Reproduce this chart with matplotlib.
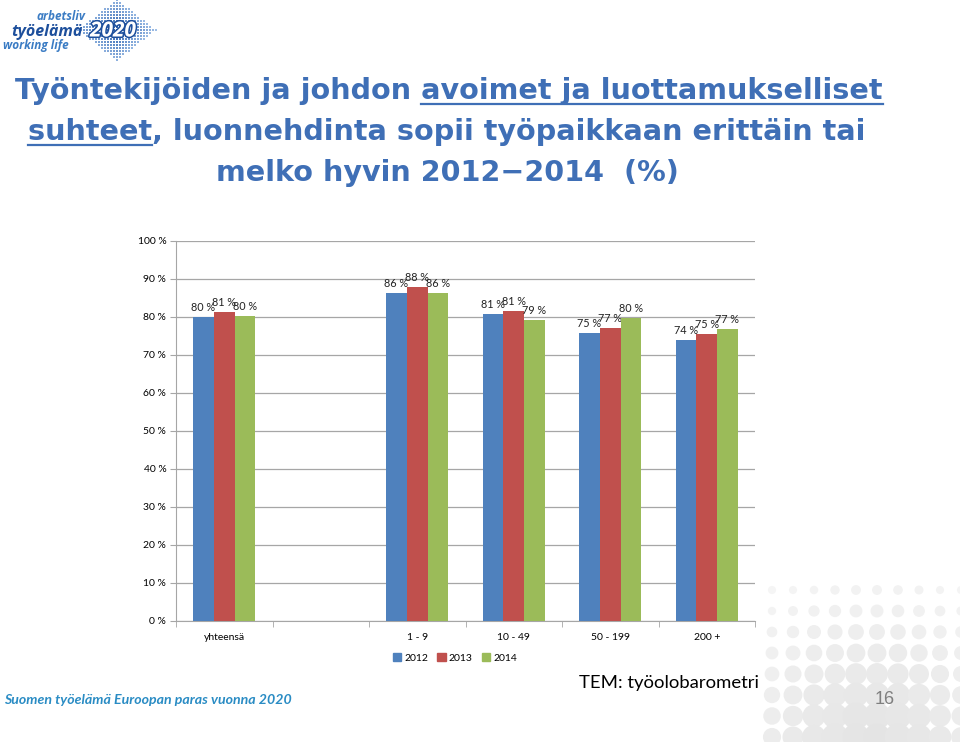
import numpy as np
import matplotlib
matplotlib.use("Agg")
import matplotlib.pyplot as plt
import matplotlib.patheffects as pe
from matplotlib.patches import Circle, Rectangle, Patch

# values (share, 0..1)
categories = ["yhteensä", "", "1 - 9", "10 - 49", "50 - 199", "200 +"]
years = ["2012", "2013", "2014"]
v2012 = [0.80, np.nan, 0.863, 0.808, 0.758, 0.739]
v2013 = [0.813, np.nan, 0.879, 0.816, 0.771, 0.755]
v2014 = [0.803, np.nan, 0.863, 0.792, 0.797, 0.768]
labels2012 = ["80 %", "", "86 %", "81 %", "75 %", "74 %"]
labels2013 = ["81 %", "", "88 %", "81 %", "77 %", "75 %"]
labels2014 = ["80 %", "", "86 %", "79 %", "80 %", "77 %"]
yticks = [0.0, 0.1, 0.2, 0.3, 0.4, 0.5, 0.6, 0.7, 0.8, 0.9, 1.0]
ytick_labels = ["0 %", "10 %", "20 %", "30 %", "40 %", "50 %", "60 %", "70 %", "80 %", "90 %", "100 %"]

colors = ["#4F81BD", "#C0504D", "#9BBB59"]
title_color = "#3F6FB6"

W, H = 960, 742


def px(x, y):
    """pixel (top-left origin) -> figure fraction"""
    return x / W, 1 - y / H


fig = plt.figure(figsize=(W / 100, H / 100), dpi=100)
fig.patch.set_facecolor("white")

# background layer in pixel units for the decorations
bg = fig.add_axes([0, 0, 1, 1], zorder=0)
bg.set_xlim(0, W)
bg.set_ylim(H, 0)
bg.axis("off")

# gray dot pattern, bottom right corner
cx, cy = 872, 748
for gx in np.arange(772, 975, 21):
    for gy in np.arange(590, 760, 21):
        d = np.hypot(gx - cx, gy - cy)
        if d > 190:
            continue
        r = 13.5 * min(1.0, max(0.3, 1.2 - d / 190))
        shade = 0.89 + 0.07 * min(1.0, d / 190)
        bg.add_patch(Circle((gx, gy), r, color=(shade, shade, shade), lw=0))

# logo: dotted diamond
lx, ly = 117, 30
for gx in np.arange(78, 157, 3):
    for gy in np.arange(0, 61, 3):
        t = abs(gx - lx) / 39 + abs(gy - ly) / 31
        if t > 1:
            continue
        s = 3.0 * (1 - 0.35 * t)
        k = min(1.0, 0.75 * t + 0.2 * (gx - 78) / 78)
        col = (0.10 + 0.55 * k, 0.32 + 0.45 * k, 0.64 + 0.28 * k)
        bg.add_patch(Rectangle((gx - s / 2, gy - s / 2), s, s, color=col, lw=0))

fig.text(*px(36, 17), "arbetsliv", fontsize=8.5, style="italic", weight="bold",
         color="#3B7CC4", family="Open Sans", va="center", ha="left")
fig.text(*px(11, 32), "työelämä", fontsize=11.5, style="italic", weight="bold",
         color="#1D4F9C", family="Open Sans", va="center", ha="left")
fig.text(*px(113, 31), "2020", fontsize=15, style="italic", weight="bold",
         color="white", family="Open Sans", va="center", ha="center",
         path_effects=[pe.withStroke(linewidth=2.2, foreground="#1D4F9C")])
fig.text(*px(3, 46), "working life", fontsize=8.5, style="italic", weight="bold",
         color="#3B7CC4", family="Open Sans", va="center", ha="left")

# title with underlined parts
title_font = dict(fontsize=20.6, weight="bold", color=title_color, family="DejaVu Sans")
line1 = "Työntekijöiden ja johdon avoimet ja luottamukselliset"
line2 = "suhteet, luonnehdinta sopii työpaikkaan erittäin tai"
line3 = "melko hyvin 2012\u22122014  (%)"
t1 = fig.text(*px(449, 99), line1, ha="center", va="baseline", **title_font)
t2 = fig.text(*px(447, 140), line2, ha="center", va="baseline", **title_font)
t3 = fig.text(*px(447, 181), line3, ha="center", va="baseline", **title_font)

renderer = fig.canvas.get_renderer()


def text_width(s):
    tmp = fig.text(0, 0, s, **title_font)
    w = tmp.get_window_extent(renderer).width
    tmp.remove()
    return w


e1 = t1.get_window_extent(renderer)
w_suffix = text_width("avoimet ja luottamukselliset")
bg.plot([e1.x1 - w_suffix, e1.x1], [104, 104], color=title_color, lw=1.6)
e2 = t2.get_window_extent(renderer)
w_prefix = text_width("suhteet")
bg.plot([e2.x0, e2.x0 + w_prefix], [145, 145], color=title_color, lw=1.6)

# chart
ax = fig.add_axes([176 / W, (H - 621) / H, 579 / W, 380 / H], zorder=2)
ax.patch.set_alpha(0)
x = np.arange(len(categories))
bw = 0.215
series = [v2012, v2013, v2014]
series_labels = [labels2012, labels2013, labels2014]
chart_font = "Lato"
for i, (vals, labs) in enumerate(zip(series, series_labels)):
    xs = x + (i - 1) * bw
    ax.bar(xs, vals, width=bw, color=colors[i], zorder=3)
    for xi, v, lab in zip(xs, vals, labs):
        if lab:
            ax.text(xi, v + 0.011, lab, ha="center", va="bottom", fontsize=7.8,
                    family=chart_font, color="#222222")

ax.set_xlim(-0.5, len(categories) - 0.5)
ax.set_ylim(0, 1.0)
ax.set_yticks(yticks)
ax.set_yticklabels(ytick_labels, fontsize=7.5, family=chart_font)
ax.yaxis.grid(True, color="#A6A6A6", lw=0.9, zorder=0)
ax.set_axisbelow(True)
ax.set_xticks(x)
ax.set_xticklabels(categories, fontsize=7.5, family=chart_font)
ax.set_xticks(np.arange(-0.5, len(categories)), minor=True)
ax.tick_params(axis="x", which="major", length=0, pad=9)
ax.tick_params(axis="x", which="minor", length=4, color="#A6A6A6")
ax.tick_params(axis="y", length=4, color="#A6A6A6", pad=3)
for side in ["top", "right"]:
    ax.spines[side].set_visible(False)
for side in ["left", "bottom"]:
    ax.spines[side].set_color("#A6A6A6")

handles = [Patch(color=c, label=y) for c, y in zip(colors, years)]
fig.legend(handles=handles, loc="center", bbox_to_anchor=px(455, 658), ncol=3,
           frameon=False, handlelength=0.8, handleheight=0.8,
           handletextpad=0.3, columnspacing=0.9, prop=dict(family=chart_font, size=7.5))

# footer texts
fig.text(*px(579, 683), "TEM: työolobarometri", fontsize=13.3, family="Lato",
         color="black", va="center", ha="left")
fig.text(*px(885, 700), "16", fontsize=13, family="Liberation Sans",
         color="#7F7F7F", va="center", ha="center")
fig.text(*px(4, 700), "Suomen työelämä Euroopan paras vuonna 2020", fontsize=10.2,
         family="Lato", style="italic", weight="bold", color="#2A8CC4",
         va="center", ha="left")

fig.savefig("out.png", dpi=100)
